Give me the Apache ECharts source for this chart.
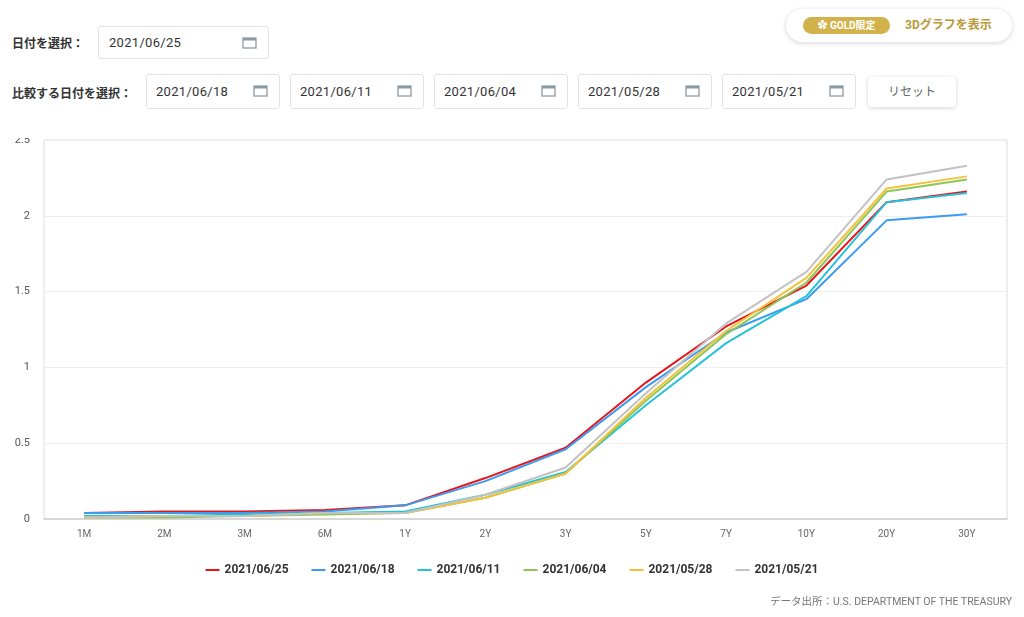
<!DOCTYPE html>
<html>
<head>
<meta charset="utf-8">
<script src="https://cdn.jsdelivr.net/npm/echarts@6/dist/echarts.min.js"></script>
<style>
	body { margin: 0; background: #fff; font-family: Roboto, 'Noto Sans CJK JP', sans-serif; color: #333; }
	#wrap { position: relative; width: 1024px; height: 617px; overflow: hidden; }
	.lbl { position: absolute; font-size: 12px; font-weight: bold; color: #333; }
	.box { position: absolute; height: 33px; border: 1px solid #e3e3e3; border-radius: 3px; box-sizing: border-box; font-size: 13px; color: #333; line-height: 31px; padding-left: 10px; letter-spacing: 0.3px; }
	.box svg { position: absolute; right: 11px; top: 9px; }
	.btn { position: absolute; left: 868px; top: 77px; width: 88px; height: 30px; border-radius: 3px; background: #fff; box-shadow: 0 1px 4px rgba(0,0,0,0.18); font-size: 12px; color: #666; text-align: center; line-height: 30px; }
	.pill { position: absolute; left: 786px; top: 9px; width: 226px; height: 33px; border-radius: 17px; background: #fff; box-shadow: 0 1px 5px rgba(0,0,0,0.18); }
	.gold { position: absolute; left: 17px; top: 8px; width: 87px; height: 17px; border-radius: 9px; background: #d2b24a; color: #fff; font-size: 10px; font-weight: bold; line-height: 17px; text-align: center; }
	.three { position: absolute; left: 119px; top: 0; line-height: 33px; font-size: 12px; font-weight: bold; color: #b8993a; }
	#chart { position: absolute; left: 0; top: 138px; width: 1024px; height: 479px; }
	.src { position: absolute; right: 12px; top: 593px; font-size: 10.5px; color: #777; }
</style>
</head>
<body>
<div id="wrap">
	<div class="lbl" style="left:12px;top:34px;">日付を選択：</div>
	<div class="box" style="left:98px;top:26px;width:171px;">2021/06/25<svg width="15" height="13"><rect x="1" y="2" width="13" height="10" fill="none" stroke="#8c9ba8" stroke-width="1.3"/><rect x="1" y="2" width="13" height="2.5" fill="#8c9ba8"/></svg></div>
	<div class="lbl" style="left:12px;top:84px;">比較する日付を選択：</div>
	<div id="cmp"></div>
	<div class="btn">リセット</div>
	<div class="pill"><div class="gold">&#10047; GOLD限定</div><div class="three">3Dグラフを表示</div></div>
	<div id="chart"></div>
	<div class="src">データ出所：U.S. DEPARTMENT OF THE TREASURY</div>
</div>
<script>
	// maturities on x axis
	var terms = ['1M', '2M', '3M', '6M', '1Y', '2Y', '3Y', '5Y', '7Y', '10Y', '20Y', '30Y'];
	var dates = ['2021/06/25', '2021/06/18', '2021/06/11', '2021/06/04', '2021/05/28', '2021/05/21'];
	var d0625 = [0.04, 0.05, 0.05, 0.06, 0.09, 0.27, 0.47, 0.90, 1.27, 1.54, 2.09, 2.16];
	var d0618 = [0.04, 0.04, 0.04, 0.05, 0.09, 0.25, 0.46, 0.87, 1.23, 1.45, 1.97, 2.01];
	var d0611 = [0.02, 0.02, 0.03, 0.04, 0.05, 0.16, 0.31, 0.75, 1.16, 1.47, 2.09, 2.15];
	var d0604 = [0.01, 0.01, 0.02, 0.03, 0.04, 0.14, 0.30, 0.78, 1.22, 1.56, 2.16, 2.24];
	var d0528 = [0.01, 0.02, 0.02, 0.04, 0.04, 0.14, 0.30, 0.80, 1.24, 1.59, 2.18, 2.26];
	var d0521 = [0.01, 0.02, 0.02, 0.04, 0.04, 0.16, 0.34, 0.83, 1.29, 1.63, 2.24, 2.33];
	var colors = ['#e8141c', '#3d9bef', '#26c3d8', '#8cc657', '#f3c23c', '#c2c2c2'];

	// compare date boxes
	var cmp = document.getElementById('cmp');
	var icon = '<svg width="15" height="13"><rect x="1" y="2" width="13" height="10" fill="none" stroke="#8c9ba8" stroke-width="1.3"/><rect x="1" y="2" width="13" height="2.5" fill="#8c9ba8"/></svg>';
	for (var i = 1; i < dates.length; i++) {
		var b = document.createElement('div');
		b.className = 'box';
		b.style.left = (146 + (i - 1) * 144) + 'px';
		b.style.top = '74px';
		b.style.width = '134px';
		b.style.height = '35px';
		b.style.lineHeight = '33px';
		b.style.paddingLeft = '9px';
		b.innerHTML = dates[i] + icon;
		cmp.appendChild(b);
	}

	var myChart = echarts.init(document.getElementById('chart'), null, { renderer: 'canvas' });
	var all = [d0625, d0618, d0611, d0604, d0528, d0521];
	var series = [];
	for (var k = 0; k < all.length; k++) {
		series.push({
			name: dates[k],
			type: 'line',
			data: all[k],
			symbol: 'none',
			lineStyle: { width: 2 },
			itemStyle: { color: colors[k] }
		});
	}
	var option = {
		animation: false,
		color: colors,
		textStyle: { fontFamily: "Roboto, 'Noto Sans CJK JP', sans-serif" },
		grid: {
			left: 44,
			right: 17,
			top: 2,
			bottom: 98,
			outerBoundsMode: 'none',
			show: true,
			borderColor: '#dcdcdc',
			borderWidth: 1
		},
		legend: {
			top: 421,
			left: 'center',
			itemWidth: 14,
			itemHeight: 2,
			itemGap: 23,
			icon: 'rect',
			textStyle: { fontSize: 12, fontWeight: 'bold', color: '#333' },
			data: dates
		},
		xAxis: {
			type: 'category',
			data: terms,
			boundaryGap: true,
			axisLine: { lineStyle: { color: '#d0d0d0', width: 1.5 } },
			axisTick: { show: false },
			axisLabel: { color: '#666', fontSize: 10, margin: 10 }
		},
		yAxis: {
			type: 'value',
			min: 0,
			max: 2.5,
			interval: 0.5,
			axisLine: { show: false },
			axisTick: { show: false },
			axisLabel: { color: '#555', fontSize: 11, margin: 14 },
			splitLine: { lineStyle: { color: '#efefef' } }
		},
		series: series
	};
	myChart.setOption(option);
	window.addEventListener('resize', myChart.resize);
</script>
</body>
</html>
